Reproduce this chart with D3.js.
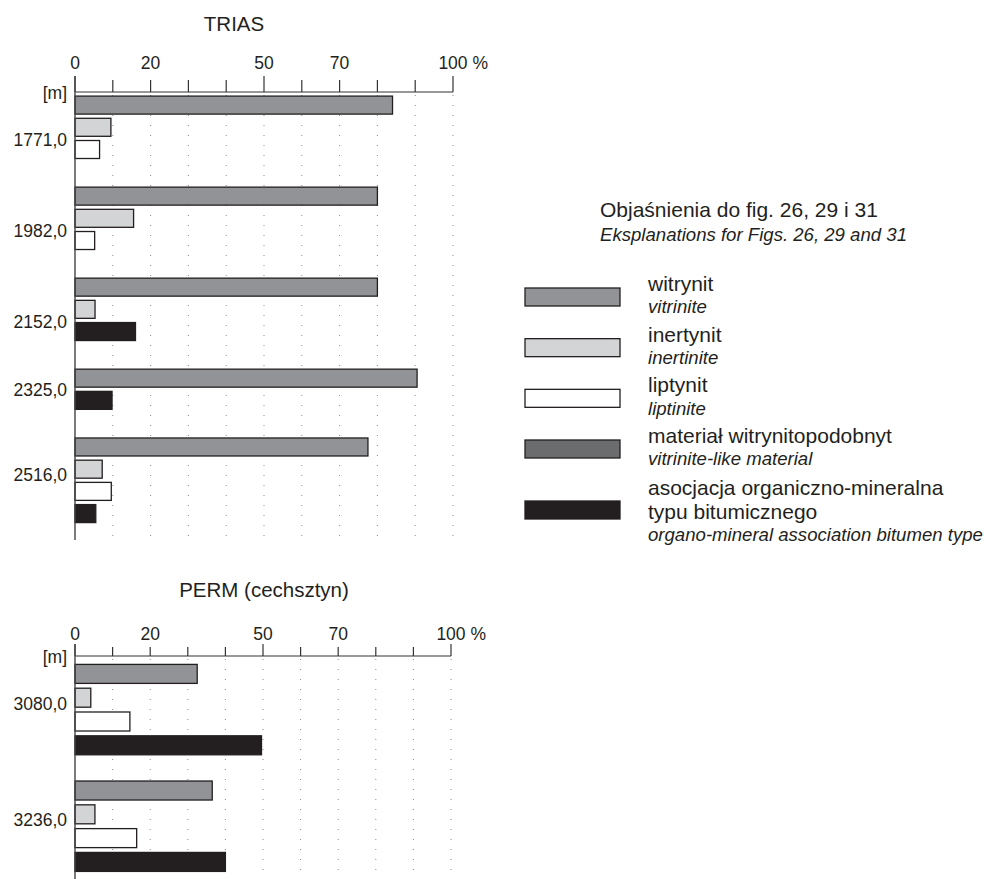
<!DOCTYPE html>
<html>
<head>
<meta charset="utf-8">
<script src="https://cdn.jsdelivr.net/npm/d3@7"></script>
<style>
  body { margin: 0; background: #fff; }
  svg { display: block; }
  text { font-family: "Liberation Sans", Arial, Helvetica, sans-serif; fill: #231f20; }
</style>
</head>
<body>
<svg id="chart" width="984" height="879"></svg>
<script>
// Maceral components (Polish name, English name) and their fills
const components = ["witrynit", "inertynit", "liptynit", "materiał witrynitopodobnyt", "asocjacja organiczno-mineralna|typu bitumicznego"];
const componentsEn = ["vitrinite", "inertinite", "liptinite", "vitrinite-like material", "organo-mineral association bitumen type"];
const componentFills = ["#929396", "#d3d4d5", "#ffffff", "#6b6c6e", "#231f20"];

// TRIAS samples, % share of each component (null = absent)
const triasDepths = ["1771,0", "1982,0", "2152,0", "2325,0", "2516,0"];
const triasWitrynit = [84, 80, 80, 90.5, 77.5];
const triasInertynit = [9.5, 15.5, 5.3, null, 7.2];
const triasLiptynit = [6.5, 5.2, null, null, 9.6];
const triasMaterial = [null, null, null, null, null];
const triasBitum = [null, null, 16, 9.8, 5.5];

// PERM (cechsztyn) samples
const permDepths = ["3080,0", "3236,0"];
const permWitrynit = [32.5, 36.5];
const permInertynit = [4.2, 5.3];
const permLiptynit = [14.6, 16.4];
const permMaterial = [null, null];
const permBitum = [49.6, 40];

// Percent axis
const xTicks = [0, 10, 20, 30, 40, 50, 60, 70, 80, 90, 100];
const xTickLabels = [0, 20, 50, 70, 100];
const xMajorTicks = [0, 50, 100];

const svg = d3.select("#chart");
const ink = "#231f20";

// row (within a depth group) against which the depth label is set
const labelRow = n => (n <= 3 ? n - 1 : 1.7);

function drawPanel(cfg) {
  const series = cfg.series;
  const g = svg.append("g");
  const x = d3.scaleLinear().domain([0, 100]).range([cfg.x0, cfg.x1]);
  const row = d3.scaleLinear().domain([0, 1]).range([cfg.rowTop, cfg.rowTop + cfg.rowStep]);

  // Lay out the bars: each depth lists only its present components, one row each
  const bars = [];
  const groups = [];
  let pos = 0;
  cfg.depths.forEach((depth, i) => {
    const start = pos;
    series.forEach((vals, k) => {
      const v = vals[i];
      if (v != null) { bars.push({ depth, k, v, pos }); pos += 1; }
    });
    groups.push({ depth, start, n: pos - start });
    pos += cfg.gapRows;
  });

  // dotted vertical grid
  g.append("g").selectAll("line")
    .data(xTicks.filter(t => t > 0))
    .join("line")
    .attr("x1", d => x(d)).attr("x2", d => x(d))
    .attr("y1", cfg.axisY + 3).attr("y2", cfg.bottom)
    .attr("stroke", "#8a8a8a").attr("stroke-width", 1)
    .attr("stroke-dasharray", "1 9");

  // bars
  const pad = (cfg.rowStep - cfg.barH) / 2;
  g.append("g").selectAll("rect")
    .data(bars)
    .join("rect")
    .attr("x", x(0))
    .attr("y", d => row(d.pos) + pad)
    .attr("width", d => x(d.v) - x(0))
    .attr("height", cfg.barH)
    .attr("fill", d => componentFills[d.k])
    .attr("stroke", ink).attr("stroke-width", 1.3);

  // top axis
  const axis = g.append("g").attr("transform", `translate(0,${cfg.axisY})`);
  axis.append("line").attr("x1", x(0)).attr("x2", x(100)).attr("y1", 0).attr("y2", 0)
    .attr("stroke", "#333").attr("stroke-width", 1.2);
  axis.selectAll("line.tick")
    .data(xTicks).join("line").attr("class", "tick")
    .attr("x1", d => x(d)).attr("x2", d => x(d))
    .attr("y1", 0).attr("y2", d => xMajorTicks.includes(d) ? -cfg.majorLen : -cfg.minorLen)
    .attr("stroke", "#333").attr("stroke-width", 1.2);
  axis.selectAll("text.lbl")
    .data(xTickLabels).join("text").attr("class", "lbl")
    .attr("x", d => x(d)).attr("y", -cfg.labelGap)
    .attr("text-anchor", "middle")
    .style("font-size", "17.5px")
    .text(d => d);
  // append the percent sign after the last label
  const last = axis.selectAll("text.lbl").filter(d => d === 100);
  const w = last.node().getComputedTextLength();
  last.attr("text-anchor", "start").attr("x", x(100) - w / 2).text("100 %");

  // vertical axis
  g.append("line").attr("x1", x(0)).attr("x2", x(0))
    .attr("y1", cfg.axisY - cfg.majorLen).attr("y2", cfg.bottom)
    .attr("stroke", "#444").attr("stroke-width", 1.4);

  // unit and depth labels
  g.append("text").attr("x", cfg.x0 - 8).attr("y", cfg.axisY).attr("dy", "0.38em")
    .attr("text-anchor", "end").style("font-size", "17.5px").text("[m]");
  g.append("g").selectAll("text")
    .data(groups).join("text")
    .attr("x", cfg.x0 - 8)
    .attr("y", d => row(d.start + labelRow(d.n)) + pad / 2)
    .attr("dy", "0.35em")
    .attr("text-anchor", "end").style("font-size", "17.5px")
    .text(d => d.depth);

  // panel title
  g.append("text").attr("x", cfg.titleX).attr("y", cfg.titleY)
    .attr("text-anchor", "middle").style("font-size", "20.5px").text(cfg.title);
}

drawPanel({
  title: "TRIAS", titleX: 234, titleY: 31,
  depths: triasDepths,
  series: [triasWitrynit, triasInertynit, triasLiptynit, triasMaterial, triasBitum],
  x0: 75, x1: 453, axisY: 92, majorLen: 16, minorLen: 12, labelGap: 23,
  rowTop: 94, rowStep: 22.2, barH: 18, gapRows: 1.1, bottom: 540
});

drawPanel({
  title: "PERM (cechsztyn)", titleX: 264, titleY: 597,
  depths: permDepths,
  series: [permWitrynit, permInertynit, permLiptynit, permMaterial, permBitum],
  x0: 75, x1: 451, axisY: 656, majorLen: 12, minorLen: 9, labelGap: 16,
  rowTop: 662, rowStep: 23.8, barH: 19, gapRows: 0.9, bottom: 879
});

// Legend
const legend = svg.append("g");
legend.append("text").attr("x", 600).attr("y", 217).style("font-size", "21px")
  .text("Objaśnienia do fig. 26, 29 i 31");
legend.append("text").attr("x", 600).attr("y", 241).style("font-size", "18.6px").style("font-style", "italic")
  .text("Eksplanations for Figs. 26, 29 and 31");

// one-line entries are evenly stacked; the two-line entry sits below them
const legendRow = d3.scalePoint().domain(d3.range(4)).range([297, 449]);
const items = components.map((name, k) => ({ name, en: componentsEn[k], k }));
const item = legend.selectAll("g.item").data(items).join("g").attr("class", "item")
  .attr("transform", d => `translate(0,${d.k < 4 ? legendRow(d.k) : 510})`);
item.append("rect").attr("x", 525).attr("y", -9).attr("width", 95).attr("height", 18)
  .attr("fill", d => componentFills[d.k]).attr("stroke", ink).attr("stroke-width", 1.3);
item.each(function (d) {
  const lines = d.name.split("|");
  const sel = d3.select(this);
  const top = lines.length > 1 ? -15 : -6;
  lines.forEach((ln, j) => {
    sel.append("text").attr("x", 648).attr("y", top + j * 23.5)
      .style("font-size", "21px").text(ln);
  });
  sel.append("text").attr("x", 648).attr("y", top + (lines.length - 1) * 23.5 + 22.2)
    .style("font-size", "18.6px").style("font-style", "italic").text(d.en);
});
</script>
</body>
</html>
